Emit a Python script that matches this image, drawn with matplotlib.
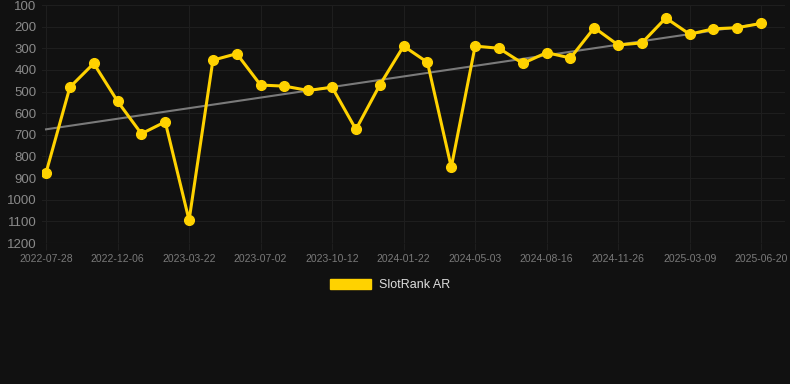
import matplotlib
matplotlib.use("Agg")
import matplotlib.pyplot as plt
import matplotlib.patches as mpatches
import numpy as np

plt.rcParams["font.family"] = ["Liberation Sans", "DejaVu Sans"]

# rank values (lower is better)
rank = [875, 480, 370, 545, 695, 640, 1095, 355, 325, 470,
        475, 495, 480, 675, 470, 290, 365, 850, 290, 300,
        370, 320, 345, 205, 285, 275, 160, 235, 210, 205, 185]

# every third point carries a date label
tick_labels = ["2022-07-28", "2022-12-06", "2023-03-22", "2023-07-02",
               "2023-10-12", "2024-01-22", "2024-05-03", "2024-08-16",
               "2024-11-26", "2025-03-09", "2025-06-20"]

series_name = "SlotRank AR"
y_ticks = [100, 200, 300, 400, 500, 600, 700, 800, 900, 1000, 1100, 1200]

bg = "#111111"
gold = "#FFD200"

fig = plt.figure(figsize=(7.9, 3.84), dpi=100, facecolor=bg)
ax = fig.add_axes([42/790, 1-243/384, (785-42)/790, (243-5)/384])
ax.set_facecolor(bg)

x = np.arange(len(rank))

# trend line (least squares)
k, b = np.polyfit(x, rank, 1)
ax.plot(x, k*x + b, color="#7a7a7a", lw=1.5, zorder=2)

ax.plot(x, rank, color=gold, lw=2.2, marker="o", ms=7, zorder=3)

ax.set_xlim(-0.17, 31.0)
ax.set_ylim(1200, 100)
ax.set_yticks(y_ticks)
ax.set_xticks(x[::3])
ax.set_xticklabels(tick_labels)

ax.grid(True, color="#1e1e1e", lw=0.8)
for s in ax.spines.values():
    s.set_visible(False)
ax.axhline(1200, color="#2a2a2a", lw=0.8, zorder=1)
ax.tick_params(axis="y", colors="#8a8a8a", labelsize=9.5, length=0, pad=4)
ax.tick_params(axis="x", colors="#7a7a7a", labelsize=7.5, length=5, color="#1e1e1e", pad=3)

handle = mpatches.Patch(color=gold)
fig.legend([handle], [series_name], loc="center", bbox_to_anchor=(390/790, 1-285/384),
           frameon=False, labelcolor="#dddddd", fontsize=9,
           handlelength=3.3, handleheight=0.9, handletextpad=0.6)

fig.savefig("out.png", dpi=100, facecolor=bg)
